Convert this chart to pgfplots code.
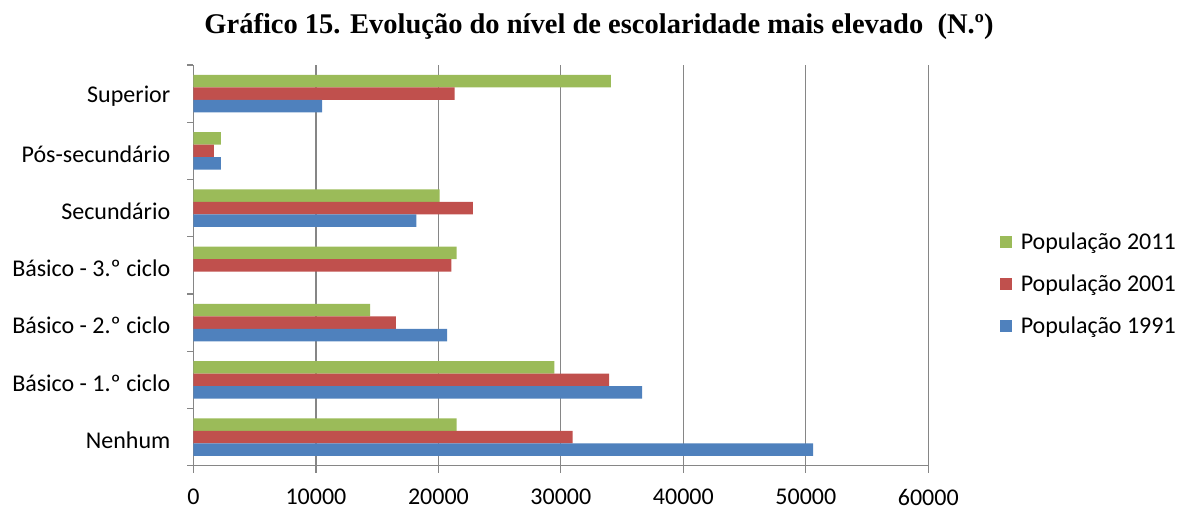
\documentclass[border=0pt]{standalone}
\usepackage{pgfplots}
\pgfplotsset{compat=1.18}
\usepackage{fontspec}
\setmainfont{Carlito}
\newfontfamily\titlefont{Liberation Serif}
\definecolor{g11}{HTML}{9BBB59}
\definecolor{r01}{HTML}{C0504D}
\definecolor{b91}{HTML}{4F81BD}
\definecolor{gridgray}{HTML}{868686}

\begin{document}
\begin{tikzpicture}
\useasboundingbox (-193.5pt,-43.3pt) rectangle (984.5pt,465.7pt);
\begin{axis}[
    at={(0pt,0pt)}, anchor=south west,
    scale only axis, width=734.8pt, height=400.7pt,
    xbar, bar width=12.5pt,
    xmin=0, xmax=60000, ymin=-0.5, ymax=6.5,
    xtick={0,10000,...,60000},
    scaled x ticks=false,
    ytick={0,...,6},
    yticklabels={Nenhum, Básico - 1.º ciclo, Básico - 2.º ciclo, Básico - 3.º ciclo, Secundário, Pós-secundário, Superior},
    minor ytick={-0.5,0.5,...,6.5},
    axis lines=left,
    axis line style={-, gridgray, line width=1.2pt},
    tick align=outside,
    major tick length=7pt, minor tick length=6pt,
    major y tick style={draw=none},
    tick style={gridgray, line width=1.2pt},
    xmajorgrids,
    major x grid style={gridgray, line width=1.2pt},
    /pgf/number format/1000 sep={},
    /pgf/number format/assume math mode=true,
    tick label style={font=\fontsize{24}{28}\selectfont, black},
    yticklabel style={inner sep=0pt, xshift=-16pt, yshift=-3pt},
    xticklabel style={inner sep=0pt, yshift=-16pt},
    legend style={at={(1.097,0.4535)}, anchor=west, draw=none, fill=none,
        font=\fontsize{24}{28}\selectfont, row sep=20pt, inner sep=0pt},
    legend image code/.code={\fill[#1] (0pt,-6pt) rectangle (12pt,6pt); \path (19pt,0pt);},
    legend cell align=left,
]
\addplot[fill=g11, draw=none, bar shift=12.5pt] coordinates {
    (21480,0) (29460,1) (14430,2) (21480,3) (20100,4) (2245,5) (34080,6)
};
\addlegendentry{População 2011}
\addplot[fill=r01, draw=none, bar shift=0pt] coordinates {
    (30950,0) (33940,1) (16530,2) (21050,3) (22820,4) (1670,5) (21320,6)
};
\addlegendentry{População 2001}
\addplot[fill=b91, draw=none, bar shift=-12.5pt] coordinates {
    (50600,0) (36640,1) (20720,2) (18190,4) (2245,5) (10510,6)
};
\addlegendentry{População 1991}
\end{axis}
\node[font=\titlefont\bfseries\fontsize{28.5}{32}\selectfont] at (405.5pt,438.7pt)
    {Gráfico 15. Evolução do nível de escolaridade mais elevado~~(N.º)};
\end{tikzpicture}
\end{document}
